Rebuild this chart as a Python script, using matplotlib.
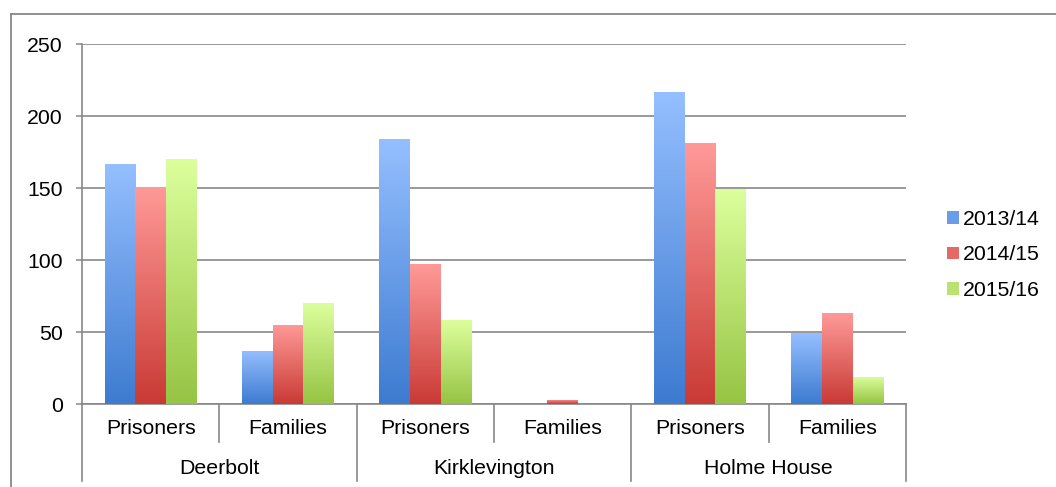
import numpy as np
import matplotlib
matplotlib.use("Agg")
import matplotlib.pyplot as plt
from matplotlib.colors import LinearSegmentedColormap
from matplotlib.lines import Line2D
from matplotlib.patches import Rectangle
import matplotlib.transforms as mtransforms

# ---- data ----
groups = ["Deerbolt", "Kirklevington", "Holme House"]
subcats = ["Prisoners", "Families"]
series_names = ["2013/14", "2014/15", "2015/16"]
v_2013_14 = [167, 37, 184, 0, 217, 49]
v_2014_15 = [151, 55, 97, 3, 181, 63]
v_2015_16 = [170, 70, 58, 0, 149, 19]
y_ticks = [0, 50, 100, 150, 200, 250]

series = [v_2013_14, v_2014_15, v_2015_16]
grad = [("#3d7bd0", "#95bfff"), ("#c93a35", "#ff9a98"), ("#96c444", "#dcff9c")]

plt.rcParams['font.family'] = ['Liberation Sans', 'DejaVu Sans']
W, H = 1056, 487
fig = plt.figure(figsize=(W / 100, H / 100), dpi=100)
ax = fig.add_axes([82 / W, (H - 404) / H, (906 - 82) / W, (404 - 44) / H])

gray = "#878787"
fs = 15.3
n_cat = len(groups) * len(subcats)
x = np.arange(n_cat)
bw = 0.224

for gi, g in enumerate(grad):
    cmap = LinearSegmentedColormap.from_list("g%d" % gi, [g[0], g[1]])
    bars = ax.bar(x + (gi - 1) * bw, series[gi], width=bw, facecolor="none",
                  edgecolor="none", zorder=3)
    for b in bars:
        h = b.get_height()
        if h <= 0:
            continue
        x0 = b.get_x()
        img = ax.imshow(np.linspace(0, 1, 256).reshape(-1, 1), cmap=cmap,
                        origin="lower", aspect="auto",
                        extent=(x0, x0 + b.get_width(), 0, h), zorder=3)
        img.set_clip_path(b)

ax.set_xlim(-0.5, n_cat - 0.5)
ax.set_ylim(0, 250)
ax.set_yticks(y_ticks)
ax.yaxis.grid(True, color=gray, lw=1.2, zorder=1)
ax.set_axisbelow(True)
ax.tick_params(axis="y", length=4.5, width=1.1, color=gray, pad=9.5,
               labelsize=fs, labelcolor="black")
ax.tick_params(axis="x", length=0, labelbottom=False)
for s in ["top", "right"]:
    ax.spines[s].set_visible(False)
for s in ["left", "bottom"]:
    ax.spines[s].set_color(gray)
    ax.spines[s].set_linewidth(1.2)

# multi-level category axis
tr = mtransforms.blended_transform_factory(ax.transData, fig.transFigure)
y_axis = (H - 404) / H
y_inner = (H - 442) / H
y_outer = (H - 481) / H
for i in range(n_cat + 1):
    xb = i - 0.5
    y_end = y_outer if i % len(subcats) == 0 else y_inner
    fig.add_artist(Line2D([xb, xb], [y_axis, y_end], transform=tr,
                          color=gray, lw=1.2, clip_on=False))
labels = [s for _ in groups for s in subcats]
for i, lab in enumerate(labels):
    fig.text(i, (H - 428) / H, lab, transform=tr, ha="center", va="center",
             fontsize=fs)
for gi, g in enumerate(groups):
    xc = gi * len(subcats) + (len(subcats) - 1) / 2
    fig.text(xc, (H - 468) / H, g, transform=tr, ha="center", va="center",
             fontsize=fs)

# legend
handles = [Rectangle((0, 0), 1, 1, facecolor=(np.array(matplotlib.colors.to_rgb(g[0])) +
                                               np.array(matplotlib.colors.to_rgb(g[1]))) / 2,
                     edgecolor="none") for g in grad]
fig.legend(handles, series_names, loc="center left",
           bbox_to_anchor=(947 / W, (H - 255) / H), frameon=False,
           fontsize=fs, handlelength=0.55, handleheight=0.55,
           handletextpad=0.2, labelspacing=0.78, borderpad=0, borderaxespad=0)

# outer chart frame (partially visible)
fig.add_artist(Line2D([11 / W, 1.0], [1 - 14 / H, 1 - 14 / H],
                      transform=fig.transFigure, color=gray, lw=1.3))
fig.add_artist(Line2D([11 / W, 11 / W], [0, 1 - 14 / H],
                      transform=fig.transFigure, color=gray, lw=1.3))

fig.savefig("out.png", dpi=100, facecolor="white")
